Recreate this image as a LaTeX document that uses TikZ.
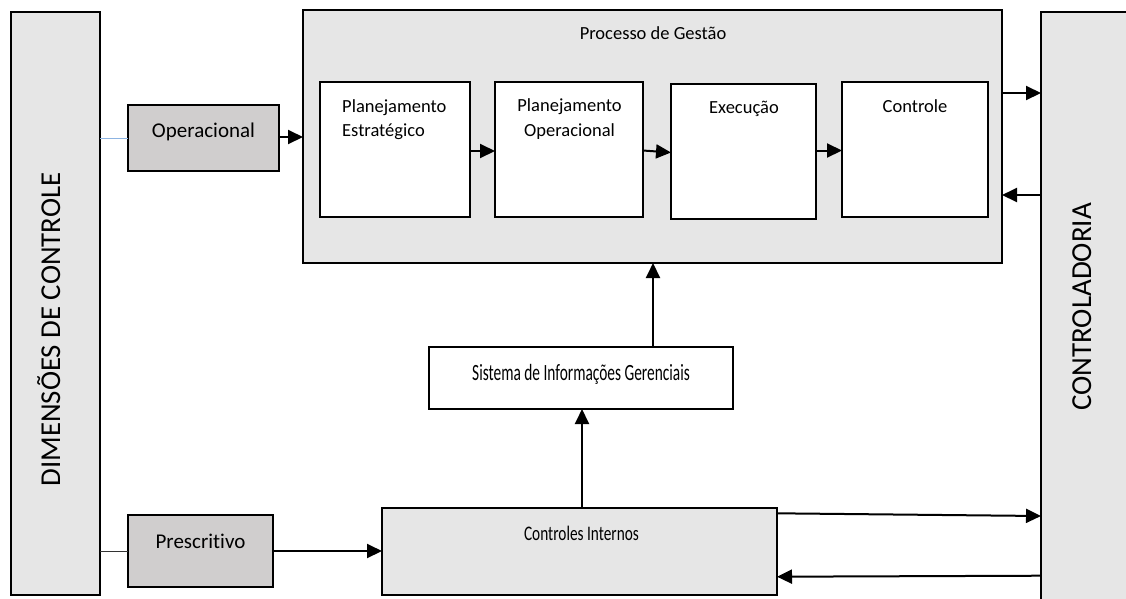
\documentclass[tikz,border=0pt]{standalone}
\usepackage{fontspec}
\setmainfont{Carlito}[Ligatures={NoCommon}]
\usetikzlibrary{arrows.meta,calc}
\definecolor{lgray}{HTML}{E6E6E6}
\definecolor{mgray}{HTML}{D0CECE}
\definecolor{lblue}{HTML}{8DB4E2}
\begin{document}
\begin{tikzpicture}[x=1pt,y=-1pt,
  box/.style={draw, line width=2.2pt, inner sep=0pt, outer sep=0pt, anchor=north west},
  arr/.style={line width=2pt, -{Triangle[length=15pt,width=14pt]}},
  fs/.style={font=\fontsize{18.5}{24.3}\selectfont, inner sep=0pt},
  fm/.style={font=\fontsize{21}{25}\selectfont, inner sep=0pt},
  fbig/.style={font=\fontsize{29}{32}\selectfont, inner sep=0pt, rotate=90, anchor=base}]
\useasboundingbox (0,0) rectangle (1126,598);
% side bars
\node[box, fill=lgray, minimum width=89pt, minimum height=583pt] (dim) at (11,12) {};
\node[fbig, font=\fontsize{28.8}{32}\selectfont] (dimt) at (60,329.5) {DIMENSÕES DE CONTROLE};
\node[inner sep=0pt, outer sep=0pt, anchor=north west, fill=lgray, minimum width=100pt, minimum height=600pt] (ctl) at (1041,12) {};
\draw[line width=2.2pt] (ctl.south west) -- (ctl.north west) -- (ctl.north east);
\node[fbig] (ctlt) at (1091,307) {CONTROLADORIA};
% dimension boxes
\node[box, fill=mgray, minimum width=151pt, minimum height=66pt] (op) at (128,105) {};
\node[fm, anchor=base] (opt) at (203.5,137) {Operacional};
\node[box, fill=mgray, minimum width=145pt, minimum height=72pt] (pr) at (128,515) {};
\node[fm, anchor=base] (prt) at (200.5,548) {Prescritivo};
% process
\node[box, fill=lgray, minimum width=699pt, minimum height=253pt] (proc) at (303,10) {};
\node[fs, anchor=base] (proct) at (653,39) {Processo de Gestão};
\node[box, fill=white, minimum width=150pt, minimum height=135pt] (pe) at (320,82) {};
\node[box, fill=white, minimum width=148pt, minimum height=135pt] (po) at (495,82) {};
\node[box, fill=white, minimum width=145pt, minimum height=135pt] (ex) at (671,84) {};
\node[box, fill=white, minimum width=146pt, minimum height=135pt] (co) at (842,82) {};
\node[fs, anchor=base west, align=left] (pet) at (342,136.3) {Planejamento\\Estratégico};
\node[fs, anchor=base, align=center] (pot) at (569.5,136) {Planejamento\\Operacional};
\node[fs, anchor=base] (ext) at (744,113) {Execução};
\node[fs, anchor=base] (cot) at (915,112.5) {Controle};
% SIG and controls
\node[box, fill=white, minimum width=304pt, minimum height=62pt] (sig) at (429,347) {};
\node[inner sep=0pt, anchor=base, font=\fontsize{23.3}{26}\selectfont] (sigt) at (581,380) {\scalebox{0.66}[1]{Sistema de Informações Gerenciais}};
\node[box, fill=lgray, minimum width=395pt, minimum height=87pt] (ci) at (382,508) {};
\node[inner sep=0pt, anchor=base, font=\fontsize{20.7}{24}\selectfont] (cit) at (581.5,540) {\scalebox{0.74}[1]{Controles Internos}};
% connectors
\draw[lblue, line width=1pt] (dim.east |- op.west) -- (op.west);
\draw[black!80, line width=1pt] (dim.east |- 0,551) -- (pr.west |- 0,551);
\draw[arr] (op.east |- 0,137) -- (proc.west |- 0,137);
\draw[arr] (pe.east |- 0,151) -- (po.west |- 0,151);
\draw[arr] (po.east |- 0,150.5) -- (ex.west |- 0,152.5);
\draw[arr] (ex.east |- 0,150.5) -- (co.west |- 0,150.5);
\draw[arr] (proc.east |- 0,93) -- (ctl.west |- 0,93);
\draw[arr] (ctl.west |- 0,195) -- (proc.east |- 0,195);
\draw[arr] (sig.north -| 653,0) -- (proc.south -| 653,0);
\draw[arr] (ci.north -| 582,0) -- (sig.south -| 582,0);
\draw[arr] (pr.east |- 0,551) -- (ci.west |- 0,551);
\draw[arr] (ci.east |- 0,513.3) -- (ctl.west |- 0,516);
\draw[arr] (ctl.west |- 0,575.7) -- (ci.east |- 0,576.7);
\end{tikzpicture}
\end{document}
